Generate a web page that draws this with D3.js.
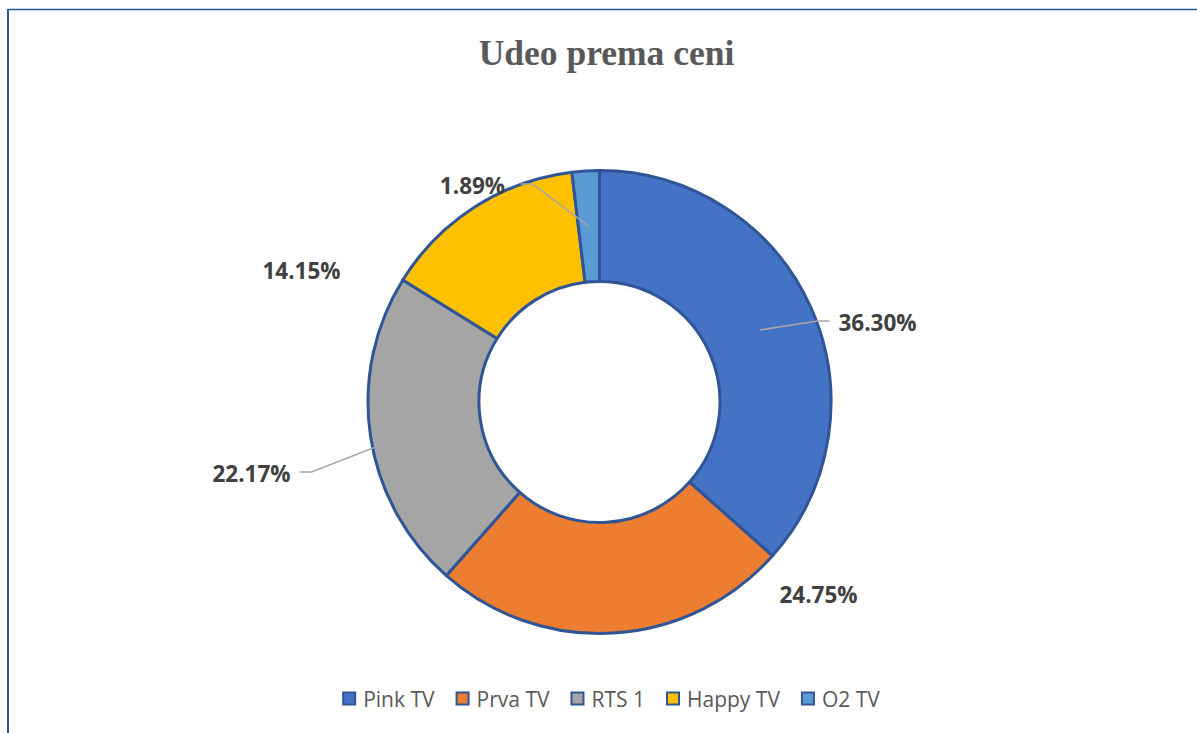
<!DOCTYPE html>
<html>
<head>
<meta charset="utf-8">
<script src="https://cdn.jsdelivr.net/npm/d3@7"></script>
<style>
  body { margin: 0; background: #fff; }
</style>
</head>
<body>
<svg id="donut"></svg>
<script>
// data
let categories = ["Pink TV", "Prva TV", "RTS 1", "Happy TV", "O2 TV"];
let shares = [36.30, 24.75, 22.17, 14.15, 1.89];
let colors = ["#4472c4", "#ed7d31", "#a5a5a5", "#ffc000", "#5b9bd5"];

// where Excel put each label (center, relative to pie center) and whether it has a leader
let labelPos = [[278, -80], [219, 192], [-348, 71], [-298, -132], [-127, -217]];
let hasLeader = [true, false, true, false, true];

let width = 1197, height = 733;
let cx = 599.5, cy = 402;
let outerR = 231.5, innerR = 120.5;

let svg = d3.select("#donut")
  .attr("width", width)
  .attr("height", height);

// frame (top + left only)
svg.append("line")
  .attr("x1", 8).attr("y1", 9.5).attr("x2", width).attr("y2", 9.5)
  .attr("stroke", "#2f5597").attr("stroke-width", 1.5);
svg.append("line")
  .attr("x1", 8).attr("y1", 9).attr("x2", 8).attr("y2", height)
  .attr("stroke", "#2f5597").attr("stroke-width", 2);

// title
svg.append("text")
  .attr("x", 606.5).attr("y", 65)
  .attr("text-anchor", "middle")
  .style("font-family", "'Liberation Serif', serif")
  .style("font-weight", "bold")
  .style("font-size", "35.5px")
  .style("fill", "#595959")
  .text("Udeo prema ceni");

let pie = d3.pie().sort(null).value(d => d);
let arcs = pie(shares);

let arc = d3.arc().innerRadius(innerR).outerRadius(outerR);

let g = svg.append("g")
  .attr("transform", "translate(" + cx + "," + cy + ")");

g.selectAll("path.slice")
  .data(arcs)
  .enter().append("path")
    .attr("class", "slice")
    .attr("d", arc)
    .attr("fill", (d, i) => colors[i])
    .attr("stroke", "#2f5597")
    .attr("stroke-width", 3)
    .attr("stroke-linejoin", "round");

// leader lines
arcs.forEach(function(d, i) {
  if (!hasLeader[i]) return;
  let c = arc.centroid(d);
  let lp = labelPos[i];
  let side = lp[0] > 0 ? -1 : 1;
  let endX = lp[0] + side * 48;
  let elbowX = endX + side * 12;
  let ly = lp[1] - 1;
  g.append("polyline")
    .attr("points", [c, [elbowX, ly], [endX, ly]].map(p => p.join(",")).join(" "))
    .attr("fill", "none")
    .attr("stroke", "#a6a6a6")
    .attr("stroke-width", 1.5);
});

// labels
g.selectAll("text.lbl")
  .data(arcs)
  .enter().append("text")
    .attr("class", "lbl")
    .attr("x", (d, i) => labelPos[i][0])
    .attr("y", (d, i) => labelPos[i][1] + 8.5)
    .attr("text-anchor", "middle")
    .style("font-family", "'Open Sans', sans-serif")
    .style("font-weight", "bold")
    .style("font-size", "22.5px")
    .style("fill", "#404040")
    .text((d, i) => shares[i].toFixed(2) + "%");

// legend
let legend = svg.append("g");
let items = legend.selectAll("g.item")
  .data(categories)
  .enter().append("g")
    .attr("class", "item");

items.append("rect")
  .attr("width", 12).attr("height", 12)
  .attr("y", 692.5)
  .attr("fill", (d, i) => colors[i])
  .attr("stroke", "#2f5597")
  .attr("stroke-width", 2);

items.append("text")
  .attr("x", 20)
  .attr("y", 706.5)
  .style("font-family", "'Open Sans', sans-serif")
  .style("font-size", "21px")
  .style("fill", "#595959")
  .text(d => d);

let xPos = 0, offsets = [];
items.each(function() {
  offsets.push(xPos);
  let w = d3.select(this).select("text").node().getComputedTextLength();
  xPos += 20 + w + 22;
});
let total = xPos - 22;
let startX = 611.5 - total / 2;
items.attr("transform", (d, i) => "translate(" + (startX + offsets[i]) + ",0)");
</script>
</body>
</html>
